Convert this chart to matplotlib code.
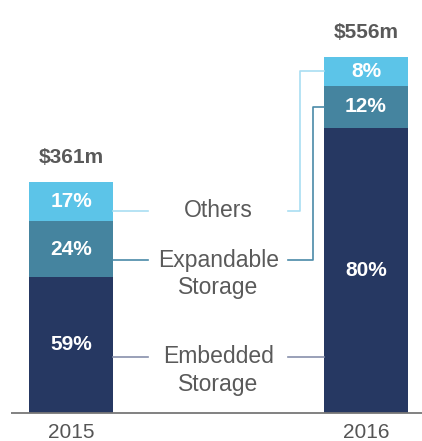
import numpy as np
import matplotlib
matplotlib.use("Agg")
import matplotlib.pyplot as plt

plt.rcParams['font.family'] = ['Liberation Sans', 'DejaVu Sans']

years = ["2015", "2016"]
totals = [361, 556]
totals_text = ["$361m", "$556m"]
segments = ["Embedded\nStorage", "Expandable\nStorage", "Others"]
shares = {
    "Embedded\nStorage": [59, 80],
    "Expandable\nStorage": [24, 12],
    "Others": [17, 8],
}
seg_colors = {
    "Embedded\nStorage": "#263862",
    "Expandable\nStorage": "#45849f",
    "Others": "#5cc4e8",
}
line_colors = {
    "Embedded\nStorage": "#8790ab",
    "Expandable\nStorage": "#4a8aa8",
    "Others": "#a9def2",
}
# where the middle labels sit (in $m on the value axis)
label_y = {"Embedded\nStorage": 88, "Expandable\nStorage": 239, "Others": 316}

W, H = 422, 441
fig = plt.figure(figsize=(W / 100, H / 100), dpi=100)
ax = fig.add_axes([0, 0, 1, 1])
ax.set_xlim(-0.2407, 1.1898)
ax.set_ylim(-43.4, 645)
ax.axis("off")

x = np.arange(len(years))
bw = 0.285
bottom = np.zeros(len(years))
mids = {}
for seg in segments:
    vals = np.array(totals) * np.array(shares[seg]) / 100.0
    ax.bar(x, vals, bw, bottom=bottom, color=seg_colors[seg], linewidth=0)
    mids[seg] = bottom + vals / 2
    for i in range(len(years)):
        ax.text(x[i], bottom[i] + vals[i] / 2, f"{shares[seg][i]}%", ha="center", va="center",
                color="white", fontsize=15, fontweight="bold")
    bottom = bottom + vals

for i in range(len(years)):
    ax.annotate(totals_text[i], (x[i], totals[i]), xytext=(0, 11), textcoords="offset points",
                ha="center", va="bottom", fontsize=15, fontweight="bold", color="#595959")
    ax.text(x[i], -30, years[i], ha="center", va="center", fontsize=15, color="#555555")

ax.plot([-0.203, 1.19], [0, 0], color="#777777", lw=1.3, solid_capstyle="butt")

# middle labels and connectors
left_edge = bw / 2
right_edge = 1 - bw / 2
elbows = {"Others": 0.776, "Expandable\nStorage": 0.820}
for seg in segments:
    ly = label_y[seg]
    c = line_colors[seg]
    ax.text(0.5, ly if seg == "Others" else ly - 21.5, seg, ha="center", va="center",
            fontsize=16.5, color="#5a5a5a", linespacing=1.25)
    ax.plot([left_edge, 0.261], [ly, ly], color=c, lw=1.2)
    if seg in elbows:
        ex = elbows[seg]
        ax.plot([0.7356, ex, ex, right_edge], [ly, ly, mids[seg][1], mids[seg][1]], color=c, lw=1.2)
    else:
        ax.plot([0.7356, right_edge], [ly, ly], color=c, lw=1.2)

fig.savefig("out.png", dpi=100)
